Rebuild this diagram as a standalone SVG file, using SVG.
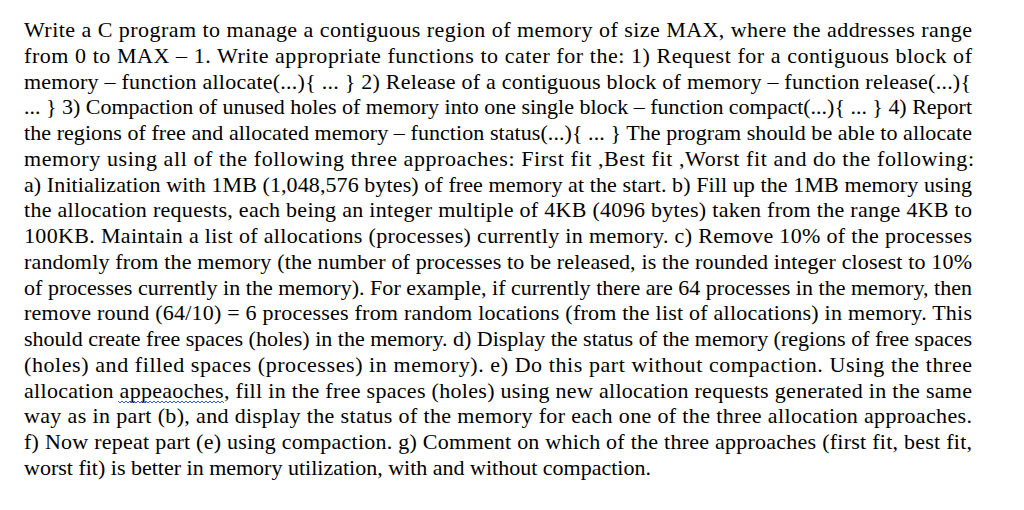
<svg xmlns="http://www.w3.org/2000/svg" width="1024" height="510" viewBox="0 0 1024 510">
<style>
text{font-family:"Liberation Serif","Times New Roman",serif;font-size:22px;fill:#000}
.sq{fill:none;stroke:#3a5bd8;stroke-width:1}
</style>
<rect width="1024" height="510" fill="#fff"/>
<g id="body">
<text x="24" y="37" textLength="948" lengthAdjust="spacing">Write a C program to manage a contiguous region of memory of size MAX, where the addresses range</text>
<text x="24" y="62.8" textLength="948" lengthAdjust="spacing">from 0 to MAX – 1. Write appropriate functions to cater for the: 1) Request for a contiguous block of</text>
<text x="24" y="88.5" textLength="947" lengthAdjust="spacing">memory – function allocate(...){ ... } 2) Release of a contiguous block of memory – function release(...){</text>
<text x="24" y="114.3" textLength="948" lengthAdjust="spacing">... } 3) Compaction of unused holes of memory into one single block – function compact(...){ ... } 4) Report</text>
<text x="24" y="140" textLength="948" lengthAdjust="spacing">the regions of free and allocated memory – function status(...){ ... } The program should be able to allocate</text>
<text x="24" y="165.8" textLength="950" lengthAdjust="spacing">memory using all of the following three approaches: First fit ,Best fit ,Worst fit and do the following:</text>
<text x="24" y="191.6" textLength="948" lengthAdjust="spacing">a) Initialization with 1MB (1,048,576 bytes) of free memory at the start. b) Fill up the 1MB memory using</text>
<text x="24" y="217.3" textLength="948" lengthAdjust="spacing">the allocation requests, each being an integer multiple of 4KB (4096 bytes) taken from the range 4KB to</text>
<text x="24" y="243.1" textLength="948" lengthAdjust="spacing">100KB. Maintain a list of allocations (processes) currently in memory. c) Remove 10% of the processes</text>
<text x="24" y="268.8" textLength="948" lengthAdjust="spacing">randomly from the memory (the number of processes to be released, is the rounded integer closest to 10%</text>
<text x="24" y="294.6" textLength="948" lengthAdjust="spacing">of processes currently in the memory). For example, if currently there are 64 processes in the memory, then</text>
<text x="24" y="320.4" textLength="948" lengthAdjust="spacing">remove round (64/10) = 6 processes from random locations (from the list of allocations) in memory. This</text>
<text x="24" y="346.1" textLength="948" lengthAdjust="spacing">should create free spaces (holes) in the memory. d) Display the status of the memory (regions of free spaces</text>
<text x="24" y="371.9" textLength="948" lengthAdjust="spacing">(holes) and filled spaces (processes) in memory). e) Do this part without compaction. Using the three</text>
<text x="24" y="397.6" textLength="948" lengthAdjust="spacing">allocation appeaoches, fill in the free spaces (holes) using new allocation requests generated in the same</text>
<text x="24" y="423.4" textLength="948" lengthAdjust="spacing">way as in part (b), and display the status of the memory for each one of the three allocation approaches.</text>
<text x="24" y="449.2" textLength="948" lengthAdjust="spacing">f) Now repeat part (e) using compaction. g) Comment on which of the three approaches (first fit, best fit,</text>
<text x="24" y="474.9">worst fit) is better in memory utilization, with and without compaction.</text>
</g>
<path class="sq" d="M118 401 l2 2 l2 -2 l2 2 l2 -2 l2 2 l2 -2 l2 2 l2 -2 l2 2 l2 -2 l2 2 l2 -2 l2 2 l2 -2 l2 2 l2 -2 l2 2 l2 -2 l2 2 l2 -2 l2 2 l2 -2 l2 2 l2 -2 l2 2 l2 -2 l2 2 l2 -2 l2 2 l2 -2 l2 2 l2 -2 l2 2 l2 -2 l2 2 l2 -2 l2 2 l2 -2 l2 2 l2 -2 l2 2 l2 -2 l2 2 l2 -2 l2 2 l2 -2 l2 2 l2 -2 l2 2 l2 -2 l2 2 l2 -2 l2 2"/>
</svg>
